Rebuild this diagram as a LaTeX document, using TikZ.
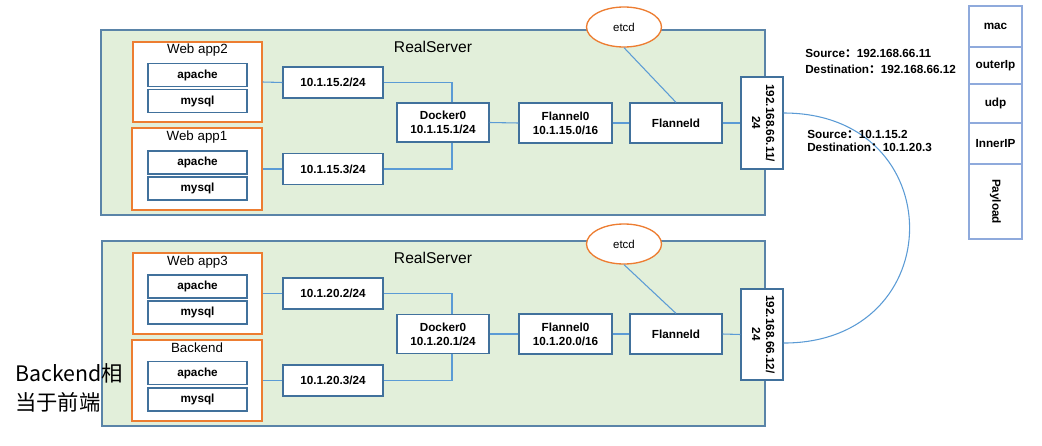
\documentclass[tikz,border=0pt]{standalone}
\usepackage{fontspec}
\usepackage{graphicx}
\setmainfont{Liberation Sans}
\newfontfamily\cjk{Noto Sans CJK SC}
\usetikzlibrary{shapes.geometric}
\definecolor{srvfill}{HTML}{E2EFDA}
\definecolor{srvline}{HTML}{5A84A8}
\definecolor{boxline}{HTML}{41719C}
\definecolor{orangec}{HTML}{ED7D31}
\definecolor{wirec}{HTML}{5B9BD5}
\definecolor{pkline}{HTML}{8FAADC}
\begin{document}
\begin{tikzpicture}[x=0.75pt,y=-0.75pt,
  srv/.style={draw=srvline, fill=srvfill, line width=1pt, inner sep=0pt},
  app/.style={draw=orangec, fill=white, line width=1pt, inner sep=0pt},
  bbox/.style={draw=boxline, fill=white, line width=0.9pt, inner sep=1pt, align=center,
    font=\bfseries\fontsize{8.8}{10.5}\selectfont},
  pk/.style={draw=pkline, fill=white, line width=0.9pt, inner sep=0pt, align=center,
    minimum width=39.75pt, font=\bfseries\fontsize{8.8}{10.5}\selectfont},
  ttl/.style={font=\fontsize{10}{12}\selectfont, inner sep=0pt},
  srvttl/.style={font=\fontsize{11.7}{14}\selectfont, inner sep=0pt},
  etcdnode/.style={ellipse, draw=orangec, fill=white, line width=1pt, minimum width=56.25pt,
    minimum height=30pt, inner sep=0pt, font=\fontsize{8.6}{10}\selectfont},
  wire/.style={draw=wirec, line width=0.8pt},
  info/.style={anchor=west, inner sep=0pt, font=\bfseries\fontsize{8.8}{10.5}\selectfont}
]
\useasboundingbox (0,0) rectangle (1042,446);

% servers
\node[srv, minimum width=498pt, minimum height=138.75pt] (srv1) at (433,122.5) {};
\node[srv, minimum width=497.25pt, minimum height=138.75pt] (srv2) at (433.5,333.5) {};
\node[srvttl] (rs1) at (433,47) {RealServer};
\node[srvttl] (rs2) at (433,258) {RealServer};

% app boxes
\node[app, minimum width=96.75pt, minimum height=60pt] (wa2) at (197.5,82) {};
\node[app, minimum width=97.5pt, minimum height=61.5pt] (wa1) at (197,169) {};
\node[app, minimum width=96.75pt, minimum height=60.75pt] (wa3) at (197.5,293.5) {};
\node[app, minimum width=97.5pt, minimum height=60.75pt] (be) at (197,380.5) {};
\node[ttl] (t2) at (197.5,50) {Web app2};
\node[ttl] (t1) at (197,137) {Web app1};
\node[ttl] (t3) at (197.5,262) {Web app3};
\node[ttl] (tb) at (197,348) {Backend};

\foreach \n/\y in {a2/75,m2/101,a1/162.5,m1/188.5,a3/286.5,m3/312.5,ab/373,mb/399.5}{
  \node[bbox, minimum width=74.25pt, minimum height=17.25pt] (\n) at (197.5,\y) {};
}
\foreach \n in {a2,a1,a3,ab}{ \node[font=\bfseries\fontsize{8.8}{10.5}\selectfont] at (\n) {apache}; }
\foreach \n in {m2,m1,m3,mb}{ \node[font=\bfseries\fontsize{8.8}{10.5}\selectfont] at (\n) {mysql}; }

% ip boxes
\node[bbox, minimum width=75pt, minimum height=23.25pt] (ip152) at (333,82.5) {10.1.15.2/24};
\node[bbox, minimum width=75pt, minimum height=23.25pt] (ip153) at (333,169) {10.1.15.3/24};
\node[bbox, minimum width=75pt, minimum height=23.25pt] (ip202) at (333,293.5) {10.1.20.2/24};
\node[bbox, minimum width=75pt, minimum height=23.25pt] (ip203) at (333,380.5) {10.1.20.3/24};

% docker, flannel
\node[bbox, minimum width=69pt, minimum height=29.25pt] (d1) at (443,122.5) {Docker0\\10.1.15.1/24};
\node[bbox, minimum width=69pt, minimum height=29.25pt] (d2) at (443,334) {Docker0\\10.1.20.1/24};
\node[bbox, minimum width=69.75pt, minimum height=30pt] (f1) at (565.5,123) {Flannel0\\10.1.15.0/16};
\node[bbox, minimum width=69.75pt, minimum height=30pt] (f2) at (565.5,334) {Flannel0\\10.1.20.0/16};
\node[bbox, minimum width=69pt, minimum height=30pt] (fd1) at (676,123) {Flanneld};
\node[bbox, minimum width=69pt, minimum height=30pt] (fd2) at (676,334) {Flanneld};
\node[bbox, minimum width=31.5pt, minimum height=69pt] (ipA) at (762,123)
  {\rotatebox{-90}{\begin{tabular}{@{}c@{}}192.168.66.11/\\24\end{tabular}}};
\node[bbox, minimum width=31.5pt, minimum height=68.25pt] (ipB) at (762,334.5)
  {\rotatebox{-90}{\begin{tabular}{@{}c@{}}192.168.66.12/\\24\end{tabular}}};

% etcd
\node[etcdnode] (e1) at (624,27) {etcd};
\node[etcdnode] (e2) at (624,244) {etcd};

% wires
\draw[wire] (wa2.east) -- (ip152.west);
\draw[wire] (wa1.east) -- (ip153.west);
\draw[wire] (wa3.east) -- (ip202.west);
\draw[wire] (be.east) -- (ip203.west);
\draw[wire] (ip152.east) -| ([xshift=6.75pt]d1.north);
\draw[wire] (ip153.east) -| ([xshift=6.75pt]d1.south);
\draw[wire] (ip202.east) -| ([xshift=6.75pt]d2.north);
\draw[wire] (ip203.east) -| ([xshift=6.75pt]d2.south);
\draw[wire] (d1.east) -- (f1.west);
\draw[wire] (f1.east) -- (fd1.west);
\draw[wire] (fd1.east) -- (ipA.west);
\draw[wire] (d2.east) -- (f2.west);
\draw[wire] (f2.east) -- (fd2.west);
\draw[wire] (fd2.east) -- (ipB.west);
\draw[wire] (e1.south) -- (fd1.north);
\draw[wire] (e2.south) -- (fd2.north);
\draw[wire] ([yshift=7.5pt]ipA.east) .. controls +(168,0) and +(168,0) .. ([yshift=-6.4pt]ipB.east);

% info texts
\node[info] (s1) at (805,53) {Source{\cjk ：}192.168.66.11};
\node[info] (s2) at (805,69) {Destination{\cjk ：}192.168.66.12};
\node[info] (s3) at (807,134) {Source{\cjk ：}10.1.15.2};
\node[info] (s4) at (807,147) {Destination{\cjk ：}10.1.20.3};

% packet stack
\node[pk, minimum height=30.75pt] (p1) at (995.5,26.5) {mac};
\node[pk, minimum height=27.75pt] (p2) at (995.5,65.5) {outerIp};
\node[pk, minimum height=29.25pt] (p3) at (995.5,103.5) {udp};
\node[pk, minimum height=30.75pt] (p4) at (995.5,143.5) {InnerIP};
\node[pk, minimum height=56.25pt] (p5) at (995.5,201.5) {\rotatebox{-90}{Payload}};

% note
\node[anchor=west, align=left, inner sep=0pt, font=\cjk\fontsize{16}{21.75}\selectfont] (note) at (15,387.5) {Backend相\\当于前端};
\end{tikzpicture}
\end{document}
